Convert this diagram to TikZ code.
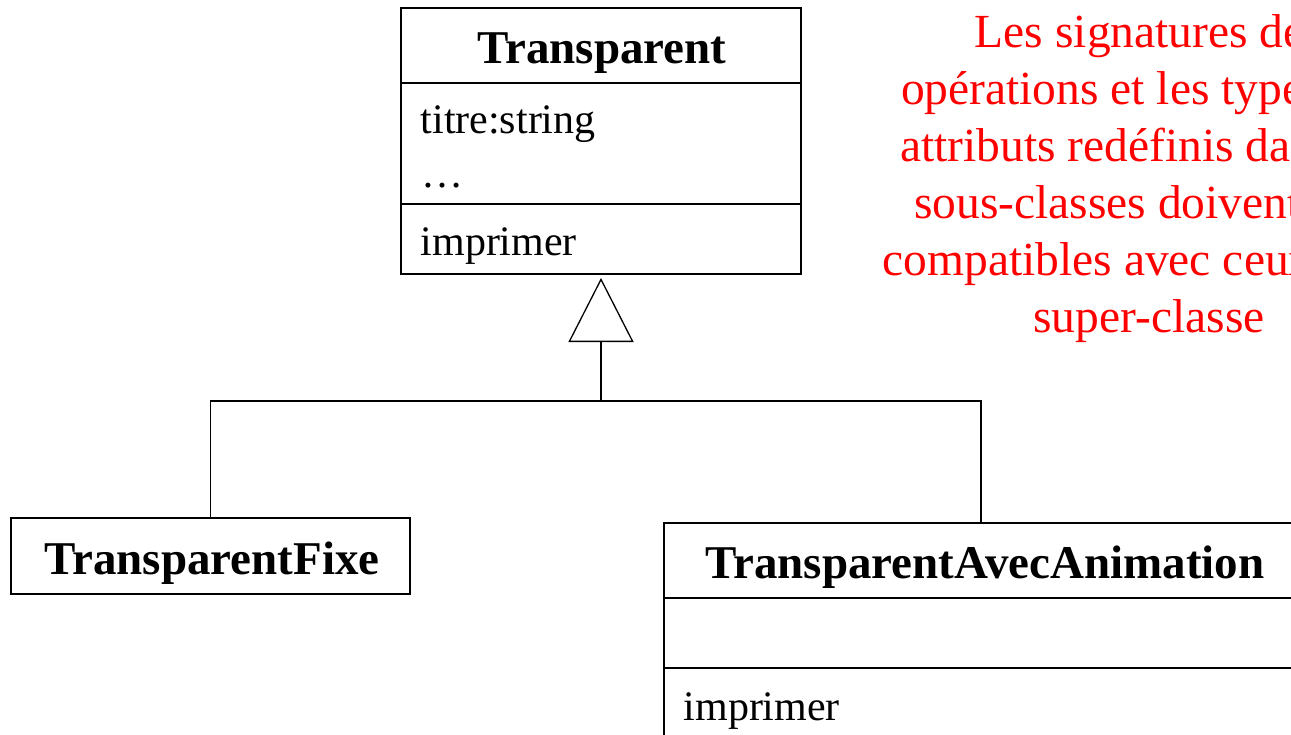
\documentclass[tikz,border=0pt]{standalone}
\usepackage{fontspec}
\setmainfont{Liberation Serif}
\usetikzlibrary{arrows.meta}
\begin{document}
\begin{tikzpicture}[x=1pt,y=-1pt, line width=1.3pt,
  classbox/.style={draw, inner sep=0pt, outer sep=0pt},
  titletext/.style={font=\fontsize{47}{54}\selectfont\bfseries, anchor=base, inner sep=0pt},
  membertext/.style={font=\fontsize{42}{48}\selectfont, anchor=base west, inner sep=0pt},
  note/.style={font=\fontsize{47.5}{57}\selectfont, text=red, align=center, inner sep=0pt},
  inherit/.style={-{Triangle[open,length=64pt,width=65pt,line width=1.3pt]}}]
\useasboundingbox (0,0) rectangle (1291,734);
\fill[white] (0,0) rectangle (1291,734);
\clip (0,0) rectangle (1291,734);

% super-class
\node[classbox, minimum width=400pt, minimum height=266pt] (T) at (601,141) {};
\draw (T.west |- 0,83) -- (T.east |- 0,83);
\draw (T.west |- 0,204) -- (T.east |- 0,204);
\node[titletext] (Tt) at (602,63) {Transparent};
\node[membertext] (Ta) at (420,133) {titre:string};
\node[membertext] (Tb) at (421,187) {…};
\node[membertext] (To) at (420,255) {imprimer};

% sub-classes
\node[classbox, minimum width=399pt, minimum height=76pt] (F) at (210.5,556) {};
\node[titletext] (Ft) at (212,574) {TransparentFixe};

\node[classbox, minimum width=642pt, minimum height=250pt] (A) at (985,648) {};
\draw (A.west |- 0,598) -- (A.east |- 0,598);
\draw (A.west |- 0,668) -- (A.east |- 0,668);
\node[titletext] (At) at (985,578) {TransparentAvecAnimation};
\node[membertext] (Ao) at (683,720) {imprimer};

% generalisation
\coordinate (hub) at (601,401);
\coordinate (ahub) at (981,401);
\draw[inherit, shorten >=4pt] (hub) -- (T.south);
\draw (F.north) |- (ahub) -- (ahub |- A.north);

% note (cut off at the right edge, as in the reference)
\node[note, anchor=base] (N) at (1149,332) {Les signatures des\\opérations et les types des\\attributs redéfinis dans les\\sous-classes doivent être\\compatibles avec ceux de la\\super-classe};
\end{tikzpicture}
\end{document}
